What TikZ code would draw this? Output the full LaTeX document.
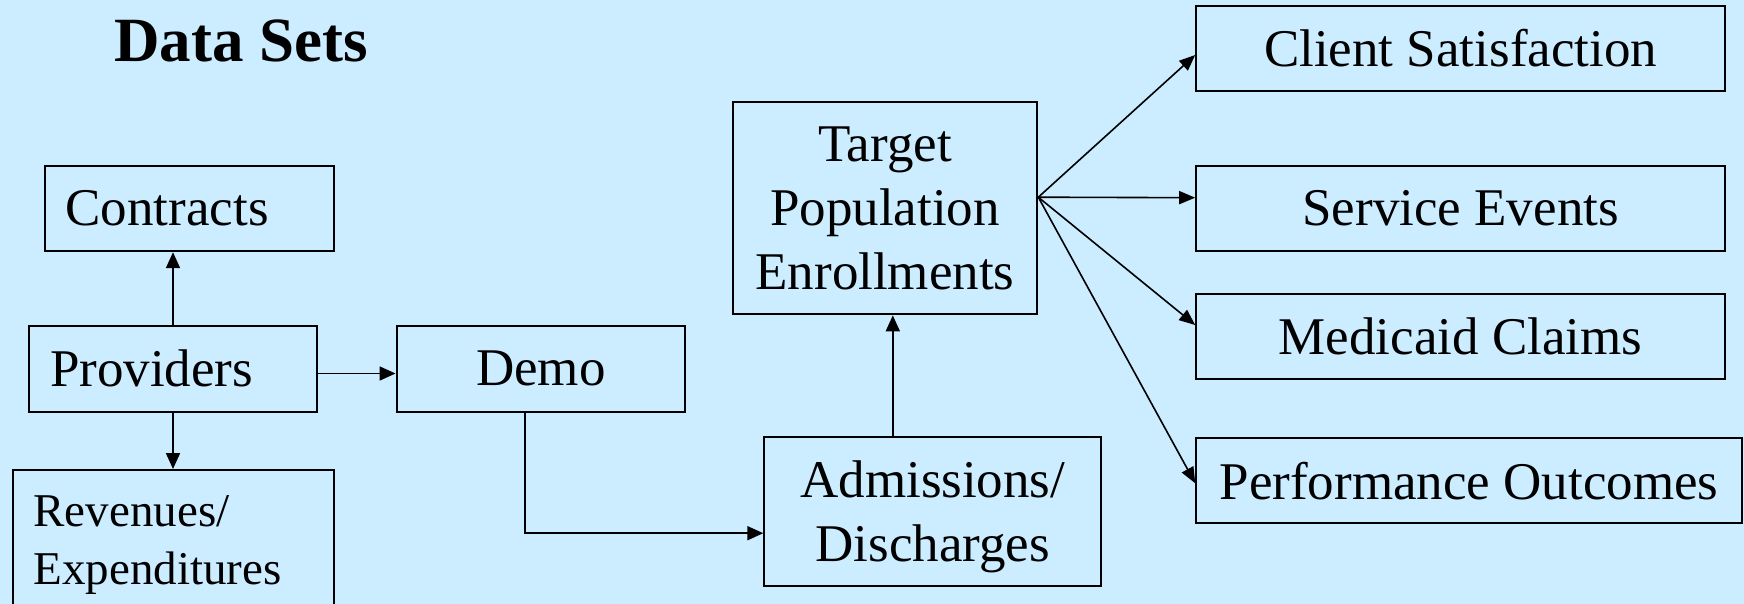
\documentclass[tikz,border=0pt]{standalone}
\usepackage{fontspec}
\setmainfont{Liberation Serif}
\usetikzlibrary{arrows.meta,calc}
\definecolor{bgblue}{RGB}{204,236,255}
\tikzset{
  box/.style={draw=black, line width=2pt, inner sep=0pt, align=center,
    font=\fontsize{53}{64}\selectfont},
  lbox/.style={box, align=left, inner xsep=21pt},
  arr/.style={line width=1.8pt, -{Triangle[length=16pt,width=14pt]}},
  fanarr/.style={line width=1.6pt, -{Triangle[length=16pt,width=13pt]}},
}
\begin{document}
\begin{tikzpicture}[x=1pt,y=-1pt]
\useasboundingbox (0,0) rectangle (1744,604);
\clip (0,0) rectangle (1744,604);
\fill[bgblue] (0,0) rectangle (1744,604);

\node[anchor=base west, inner sep=0pt, font=\fontsize{63}{70}\selectfont\bfseries] (title) at (114,61.6) {Data Sets};

\node[lbox, text width=247.2pt, minimum height=85.6pt] (contracts) at (189.1,208.4) {Contracts};
\node[lbox, text width=246pt, minimum height=86pt] (providers) at (173,368.5) {Providers};
\node[box, minimum width=288.7pt, minimum height=86pt] (demo) at (540.9,368.5) {Demo};
\node[draw=black, line width=2pt, inner sep=0pt, minimum width=320.7pt, minimum height=160pt] (rev) at (173.15,550) {};
\node[anchor=base west, inner sep=0pt, align=left, font=\fontsize{47}{57.6}\selectfont] (revtext) at (33.4,584.3) {Revenues/\\Expenditures};

\node[box, minimum width=304.6pt, minimum height=212.3pt] (target) at (885,208.2) {Target\\Population\\Enrollments};
\node[box, text depth=0pt, minimum width=337pt, minimum height=149pt] (adm) at (932.8,511.2) {Admissions/\\Discharges};

\node[box, minimum width=528.8pt, minimum height=85.3pt] (client) at (1460.6,48.4) {Client Satisfaction};
\node[box, minimum width=528.8pt, minimum height=85.3pt] (service) at (1460.6,208.3) {Service Events};
\node[box, minimum width=528.8pt, minimum height=85pt] (medicaid) at (1460.6,336.5) {Medicaid Claims};
\node[box, minimum width=545.5pt, minimum height=85pt] (perf) at (1469,480.8) {Performance Outcomes};

\draw[arr] (providers.north) -- (providers.north |- contracts.south);
\draw[arr] (providers.south) -- (providers.south |- rev.north);
\draw[arr] ([yshift=-5pt]providers.east) -- ([yshift=-5pt]demo.west);
\draw[arr] ([xshift=-16pt]demo.south) |- ([yshift=-22pt]adm.west);
\draw[arr] ([xshift=-40pt]adm.north) -- ([xshift=-40pt]adm.north |- target.south);

\coordinate (fan) at ([yshift=11pt]target.east);
\draw[fanarr] (fan) -- ([yshift=-6.6pt]client.west);
\draw[fanarr] (fan) -- ([yshift=10.6pt]service.west);
\draw[fanarr] (fan) -- ([yshift=11.5pt]medicaid.west);
\draw[fanarr] (fan) -- ([yshift=-2.5pt]perf.west);
\end{tikzpicture}
\end{document}
